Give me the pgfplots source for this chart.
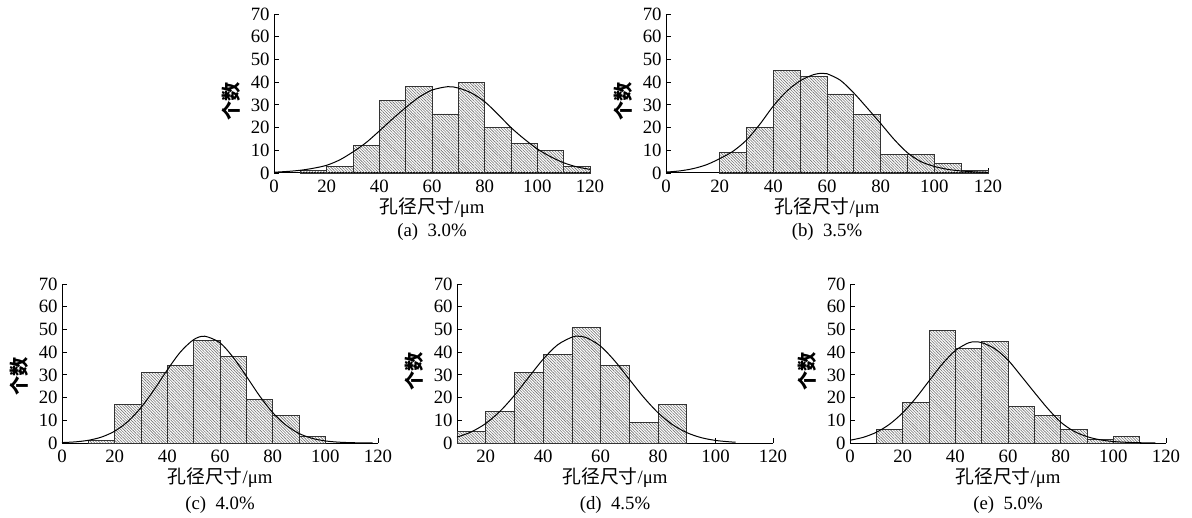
\documentclass[border=0pt]{standalone}
\usepackage{fontspec}
\setmainfont{Liberation Serif}
\newfontfamily\cjk{Noto Sans CJK SC}
\usepackage{pgfplots}
\pgfplotsset{compat=1.18}
\usetikzlibrary{patterns.meta}

\pgfplotsset{
  hist/.style={
    scale only axis, width=158bp, height=79.5bp, anchor=south west,
    xmin=0, xmax=120, ymin=0, ymax=70,
    axis lines=left, axis line style={-, line width=0.5bp},
    tick align=inside, major tick length=2.5bp,
    tick style={black, line width=0.4bp},
    xtick={0,20,...,120}, ytick={0,10,...,70},
    tick label style={font=\fontsize{9.4bp}{10bp}\selectfont},
    yticklabel style={inner sep=2bp},
    /pgf/number format/assume math mode=true,
    clip=false,
  },
  bars/.style={ybar interval, draw=black!80, line width=0.35bp,
    pattern={Lines[angle=-45,distance=1bp,line width=0.3bp]}, pattern color=black!55},
  fit/.style={smooth, black, line width=0.5bp, mark=none},
}
\newcommand\labels[3]{%
  \node[font=\fontsize{9.4bp}{11bp}\selectfont] at ([yshift=-17.5bp]rel axis cs:0.5,0) {{\cjk 孔径尺寸}/μm};
  \node[font=\fontsize{9.4bp}{11bp}\selectfont] at ([yshift=-#3]rel axis cs:0.5,0) {#1};
  \node[rotate=90, font=\fontsize{9.6bp}{11bp}\selectfont] at ([xshift=-21.5bp]rel axis cs:0,#2) {\cjk\bfseries 个数};
}

\begin{document}
\begin{tikzpicture}
\path[use as bounding box] (0bp,0bp) rectangle (596bp,259bp);

% (a) 3.0%
\begin{axis}[hist, at={(137bp,172.5bp)}]
\addplot[bars] coordinates {(10,1) (20,3) (30,12) (40,32) (50,38) (60,26) (70,40) (80,20) (90,13) (100,10) (110,3) (120,0)};
\addplot[fit] coordinates {(0,0.34) (5,0.68) (10,1.2) (15,2.1) (20,3.4) (25,5.8) (30,9.3) (35,13.4) (40,18.5) (45,23.8) (50,28.8) (55,33.3) (60,36.5) (66,38) (70,37.4) (75,35.2) (80,31.4) (85,25.9) (90,20) (95,15) (100,10.6) (105,7.2) (110,4.5) (115,2.7) (120,1.6)};
\labels{(a)\ \ 3.0\%}{0.45}{29.5bp}
\end{axis}

% (b) 3.5%
\begin{axis}[hist, width=161bp, at={(333bp,172.5bp)}]
\addplot[bars] coordinates {(20,9) (30,20) (40,45.3) (50,42.5) (60,34.8) (70,25.8) (80,8.2) (90,8.2) (100,4.2) (110,1) (120,0)};
\addplot[fit] coordinates {(0,0.4) (5,0.9) (10,1.9) (15,3.6) (20,6.3) (25,9.6) (30,14.5) (35,21.5) (40,29.5) (45,36) (50,40.6) (55,43.3) (58,43.9) (60,43.7) (65,40.8) (70,35.2) (75,28.6) (80,21.8) (85,14.8) (90,8.9) (95,5) (100,2.9) (105,1.6) (110,0.9) (115,0.5) (120,0.3)};
\labels{(b)\ \ 3.5\%}{0.45}{29.5bp}
\end{axis}

% (c) 4.0%
\begin{axis}[hist, at={(31bp,37.5bp)}]
\addplot[bars] coordinates {(10,1) (20,17) (30,31) (40,34) (50,45) (60,38) (70,19) (80,12) (90,3) (100,0)};
\addplot[fit] coordinates {(0,0.19) (5,0.49) (10,1.19) (15,2.61) (20,5.2) (25,9.45) (30,15.6) (35,23.5) (40,32.2) (45,40.1) (50,45.5) (54.2,47) (60,44.1) (65,37.7) (70,29.4) (75,20.8) (80,13.4) (85,7.9) (90,4.2) (95,2.05) (100,0.91) (105,0.37) (110,0.14) (115,0.05) (118,0.03)};
\labels{(c)\ \ 4.0\%}{0.42}{31bp}
\end{axis}

% (d) 4.5%
\begin{axis}[hist, xmin=10, at={(228.5bp,37.5bp)}]
\addplot[bars] coordinates {(10,5) (20,14) (30,31) (40,39) (50,51) (60,34) (70,9) (80,17) (90,0)};
\addplot[fit] coordinates {(10,2.57) (15,4.9) (20,8.6) (25,14) (30,21) (35,29) (40,36.9) (45,43.2) (50,46.6) (52.2,47) (55,46.4) (60,42.6) (65,36) (70,28) (75,20.1) (80,13.3) (85,8.1) (90,4.56) (95,2.36) (100,1.13) (105,0.5) (107,0.35)};
\labels{(d)\ \ 4.5\%}{0.45}{31bp}
\end{axis}

% (e) 5.0%
\begin{axis}[hist, at={(425bp,37.5bp)}]
\addplot[bars] coordinates {(10,6) (20,18) (30,49.5) (40,41.7) (50,44.8) (60,16) (70,12) (80,6) (90,1.6) (100,3) (110,0)};
\addplot[fit] coordinates {(0,1.22) (5,2.49) (10,4.72) (15,8.25) (20,13.3) (25,19.8) (30,27.3) (35,34.7) (40,40.7) (45,44.1) (47.5,44.5) (50,44.2) (55,41.5) (60,36.5) (65,29.5) (70,22.3) (75,15.3) (80,9.2) (85,5.2) (90,2.8) (95,1.4) (100,0.65) (105,0.3) (110,0.12) (116,0.05)};
\labels{(e)\ \ 5.0\%}{0.45}{31bp}
\end{axis}
\end{tikzpicture}
\end{document}
